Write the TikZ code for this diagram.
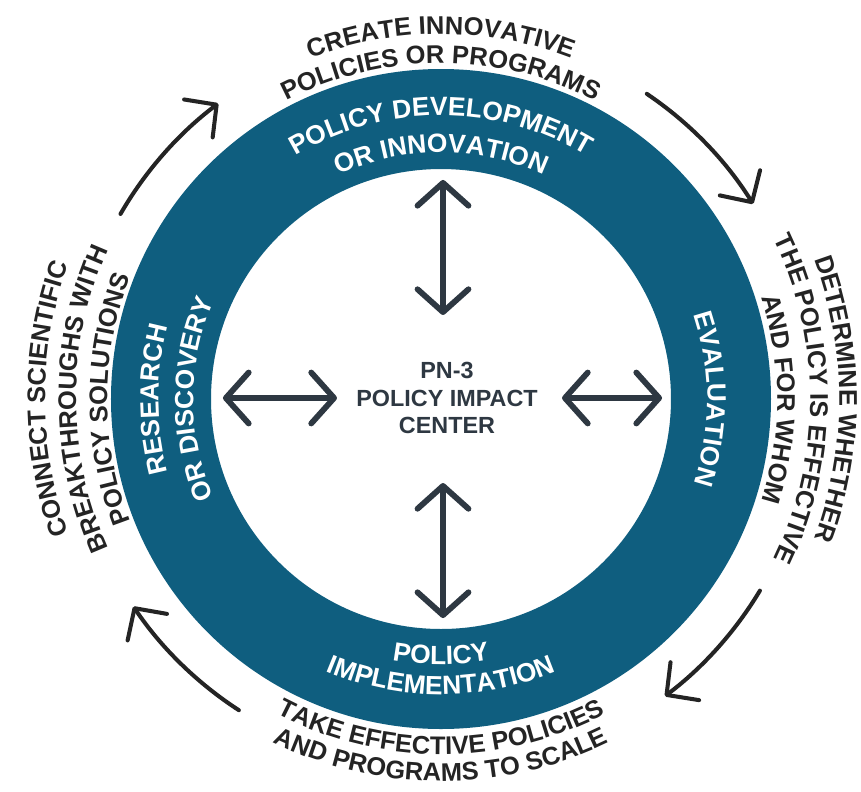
\documentclass[tikz,border=0pt]{standalone}
\usepackage{fontspec}
\setmainfont{Liberation Sans}
\usepackage{tikz}
\usetikzlibrary{arrows.meta}
\usetikzlibrary{decorations.text}
\definecolor{ringblue}{RGB}{15,94,127}
\definecolor{slate}{RGB}{46,56,66}
\definecolor{ink}{RGB}{36,36,36}

\newcommand{\ringfont}{\bfseries\fontsize{15}{18}\selectfont}
\newcommand{\outfont}{\bfseries\fontsize{14.5}{17}\selectfont}

\begin{document}
\begin{tikzpicture}[
            scale = 0.02, % one unit is one pixel of the sketch
            > = {Straight Barb[length=13pt, width=29pt, round]}, % arrow head style
            line cap = round
        ]

        \tikzstyle{ringtext}=[
            decorate,
            decoration = {text along path, text align = center, text color = white}
        ]
        \tikzstyle{outtext}=[
            decorate,
            decoration = {text along path, text align = center, text color = ink}
        ]
        \tikzstyle{hubarrow}=[<->, draw = slate, line width = 3.3pt]
        \tikzstyle{cyclearrow}=[->, draw = ink, line width = 2.3pt,
            > = {Straight Barb[length=13pt, width=27pt, round]}]

        \useasboundingbox (-441,-392) rectangle (420,399);
        \fill[white] (-441,-392) rectangle (420,399);

	% ring
        \fill[ringblue, even odd rule] (0,0) circle [radius=330] circle [radius=230];

        % centre
        \node[align = center, text = slate, font = \bfseries\fontsize{13.3}{15.4}\selectfont]
            (hub) at (6,1) {PN-3\\POLICY IMPACT\\CENTER};

        \coordinate (T1) at (2,219);
        \coordinate (T2) at (2,84);
        \coordinate (B1) at (2,-84);
        \coordinate (B2) at (2,-219);
        \coordinate (L1) at (-218,1);
        \coordinate (L2) at (-104,1);
        \coordinate (R1) at (121,1);
        \coordinate (R2) at (221,1);

        \draw[hubarrow] (T1) -- (T2);
        \draw[hubarrow] (B1) -- (B2);
        \draw[hubarrow] (L1) -- (L2);
        \draw[hubarrow] (R1) -- (R2);

        % texts in the ring
        \path[ringtext, decoration = {text = {|\ringfont|POLICY DEVELOPMENT}}]
            (150:283.5) arc [start angle=150, end angle=30, radius=283.5];
        \path[ringtext, decoration = {text = {|\ringfont|OR INNOVATION}}]
            (150:246.5) arc [start angle=150, end angle=30, radius=246.5];
        \path[ringtext, decoration = {text = {|\ringfont|RESEARCH}}]
            (240:282.5) arc [start angle=240, end angle=120, radius=282.5];
        \path[ringtext, decoration = {text = {|\ringfont|OR DISCOVERY}}]
            (240:247.5) arc [start angle=240, end angle=120, radius=247.5];
        \path[ringtext, decoration = {text = {|\ringfont|EVALUATION}}]
            (60:266.5) arc [start angle=60, end angle=-60, radius=266.5];
        \path[ringtext, decoration = {text = {|\ringfont|POLICY}}]
            (210:265.5) arc [start angle=210, end angle=330, radius=265.5];
        \path[ringtext, decoration = {text = {|\ringfont|IMPLEMENTATION}}]
            (210:295.5) arc [start angle=210, end angle=330, radius=295.5];

        % texts round the ring
        \path[outtext, decoration = {text = {|\outfont|CREATE INNOVATIVE}}]
            (150:364.8) arc [start angle=150, end angle=30, radius=364.8];
        \path[outtext, decoration = {text = {|\outfont|POLICIES OR PROGRAMS}}]
            (150:335.8) arc [start angle=150, end angle=30, radius=335.8];
        \path[outtext, decoration = {text = {|\outfont|CONNECT SCIENTIFIC}}]
            (240:395.8) arc [start angle=240, end angle=120, radius=395.8];
        \path[outtext, decoration = {text = {|\outfont|BREAKTHROUGHS WITH}}]
            (240:364.8) arc [start angle=240, end angle=120, radius=364.8];
        \path[outtext, decoration = {text = {|\outfont|POLICY SOLUTIONS}}]
            (240:333.8) arc [start angle=240, end angle=120, radius=333.8];
        \path[outtext, decoration = {text = {|\outfont|DETERMINE WHETHER}}]
            (60:398.3) arc [start angle=60, end angle=-60, radius=398.3];
        \path[outtext, decoration = {text = {|\outfont|THE POLICY IS EFFECTIVE}}]
            (60:369.3) arc [start angle=60, end angle=-60, radius=369.3];
        \path[outtext, decoration = {text = {|\outfont|AND FOR WHOM}}]
            (60:336.3) arc [start angle=60, end angle=-60, radius=336.3];
        \path[outtext, decoration = {text = {|\outfont|TAKE EFFECTIVE POLICIES}}]
            (210:355.2) arc [start angle=210, end angle=330, radius=355.2];
        \path[outtext, decoration = {text = {|\outfont|AND PROGRAMS TO SCALE}}]
            (210:382.2) arc [start angle=210, end angle=330, radius=382.2];

        % cycle arrows
        \coordinate (UL) at (150:370);
        \coordinate (UR) at (56:368);
        \coordinate (LR) at (-31:372);
        \coordinate (LL) at (237:371);

        \draw[cyclearrow] (UL) arc [start angle=150, end angle=127, radius=370];
        \draw[cyclearrow] (UR) arc [start angle=56, end angle=32, radius=368];
        \draw[cyclearrow] (LR) arc [start angle=-31, end angle=-53, radius=372];
        \draw[cyclearrow] (LL) arc [start angle=237, end angle=214, radius=371];

  \end{tikzpicture}
\end{document}
